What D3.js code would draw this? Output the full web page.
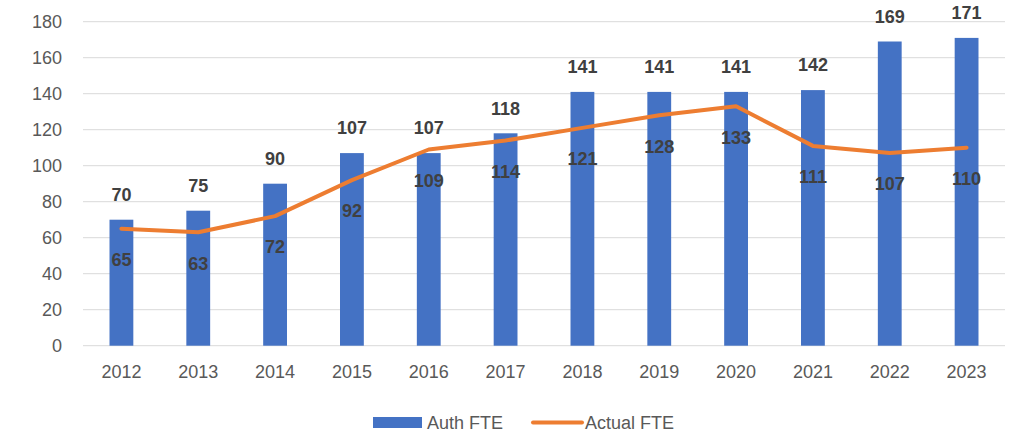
<!DOCTYPE html>
<html>
<head>
<meta charset="utf-8">
<script src="https://cdn.jsdelivr.net/npm/d3@7"></script>
<style>
  body { margin: 0; background: #fff; }
  svg { font-family: "Liberation Sans", Arial, sans-serif; }
</style>
</head>
<body>
<script>
var years = ["2012", "2013", "2014", "2015", "2016", "2017", "2018", "2019", "2020", "2021", "2022", "2023"];
var authFTE = [70, 75, 90, 107, 107, 118, 141, 141, 141, 142, 169, 171];
var actualFTE = [65, 63, 72, 92, 109, 114, 121, 128, 133, 111, 107, 110];
var yTicks = [0, 20, 40, 60, 80, 100, 120, 140, 160, 180];
var seriesNames = ["Auth FTE", "Actual FTE"];

var width = 1023, height = 432;
var margin = {top: 21.7, right: 18, bottom: 86.3, left: 83};
var innerW = width - margin.left - margin.right,
    innerH = height - margin.top - margin.bottom;

var svg = d3.select("body").append("svg")
    .attr("width", width)
    .attr("height", height);

var g = svg.append("g")
    .attr("transform", "translate(" + margin.left + "," + margin.top + ")");

var x = d3.scaleBand().domain(years).range([0, innerW]).paddingInner(0.69).paddingOuter(0.345);
var y = d3.scaleLinear().domain([0, 180]).range([innerH, 0]);

// gridlines
g.selectAll(".grid")
    .data(yTicks)
  .enter().append("line")
    .attr("x1", 0).attr("x2", innerW)
    .attr("y1", function(d) { return y(d); })
    .attr("y2", function(d) { return y(d); })
    .attr("stroke", "#d9d9d9")
    .attr("stroke-width", 1);

// y axis labels
var yAxis = g.append("g")
    .call(d3.axisLeft(y).tickValues(yTicks).tickSize(0).tickPadding(21));
yAxis.select(".domain").remove();
yAxis.selectAll("text").attr("fill", "#595959").style("font-size", "18px");

// x axis labels
var xAxis = g.append("g")
    .attr("transform", "translate(0," + innerH + ")")
    .call(d3.axisBottom(x).tickSize(0).tickPadding(20));
xAxis.select(".domain").remove();
xAxis.selectAll("text").attr("fill", "#595959").style("font-size", "18px");

// bars
g.selectAll(".bar")
    .data(authFTE)
  .enter().append("rect")
    .attr("class", "bar")
    .attr("x", function(d, i) { return x(years[i]); })
    .attr("width", x.bandwidth())
    .attr("y", function(d) { return y(d); })
    .attr("height", function(d) { return innerH - y(d); })
    .attr("fill", "#4472C4");

// line
var line = d3.line()
    .x(function(d, i) { return x(years[i]) + x.bandwidth() / 2; })
    .y(function(d) { return y(d); });

g.append("path")
    .datum(actualFTE)
    .attr("d", line)
    .attr("fill", "none")
    .attr("stroke", "#ED7D31")
    .attr("stroke-width", 4)
    .attr("stroke-linejoin", "round")
    .attr("stroke-linecap", "round");

// bar labels
g.selectAll(".barLabel")
    .data(authFTE)
  .enter().append("text")
    .attr("x", function(d, i) { return x(years[i]) + x.bandwidth() / 2; })
    .attr("y", function(d) { return y(d) - 25; })
    .attr("dy", "0.35em")
    .attr("text-anchor", "middle")
    .attr("fill", "#404040")
    .style("font-size", "18px")
    .style("font-weight", "bold")
    .text(function(d) { return d; });

// line labels
g.selectAll(".lineLabel")
    .data(actualFTE)
  .enter().append("text")
    .attr("x", function(d, i) { return x(years[i]) + x.bandwidth() / 2; })
    .attr("y", function(d) { return y(d) + 31; })
    .attr("dy", "0.35em")
    .attr("text-anchor", "middle")
    .attr("fill", "#404040")
    .style("font-size", "18px")
    .style("font-weight", "bold")
    .text(function(d) { return d; });

// legend
var legend = svg.append("g");
legend.append("rect")
    .attr("x", 373).attr("y", 417).attr("width", 49).attr("height", 11)
    .attr("fill", "#4472C4");
legend.append("text")
    .attr("x", 427).attr("y", 422.5).attr("dy", "0.35em")
    .attr("fill", "#595959").style("font-size", "18px")
    .text(seriesNames[0]);
legend.append("line")
    .attr("x1", 533).attr("x2", 582).attr("y1", 422.5).attr("y2", 422.5)
    .attr("stroke", "#ED7D31").attr("stroke-width", 4).attr("stroke-linecap", "round");
legend.append("text")
    .attr("x", 585).attr("y", 422.5).attr("dy", "0.35em")
    .attr("fill", "#595959").style("font-size", "18px")
    .text(seriesNames[1]);
</script>
</body>
</html>
